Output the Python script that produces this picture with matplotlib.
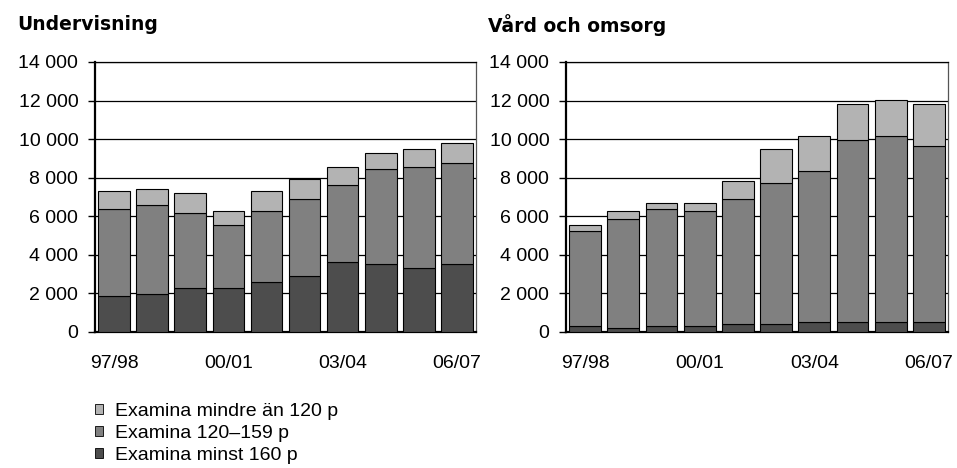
import matplotlib
matplotlib.use("Agg")
import matplotlib.pyplot as plt
from matplotlib.patches import Patch

plt.rcParams['font.family'] = ['Liberation Sans', 'DejaVu Sans']

years = ["97/98", "98/99", "99/00", "00/01", "01/02", "02/03", "03/04", "04/05", "05/06", "06/07"]
tick_labels = ["97/98", "00/01", "03/04", "06/07"]
tick_idx = [0, 3, 6, 9]

# Undervisning
und_min160 = [1880, 1970, 2280, 2280, 2610, 2920, 3650, 3530, 3340, 3530]
und_120_159 = [4480, 4620, 3880, 3250, 3650, 3980, 3980, 4940, 5230, 5230]
und_lt120 = [940, 840, 1060, 730, 1040, 1040, 940, 830, 940, 1060]

# Vård och omsorg
vard_min160 = [300, 210, 300, 300, 400, 400, 500, 500, 500, 500]
vard_120_159 = [4940, 5630, 6060, 5960, 6490, 7320, 7850, 9430, 9640, 9120]
vard_lt120 = [310, 440, 310, 420, 960, 1790, 1790, 1880, 1900, 2190]

series_names = ["Examina mindre än 120 p", "Examina 120–159 p", "Examina minst 160 p"]
c_light, c_mid, c_dark = "#b3b3b3", "#808080", "#4d4d4d"

fig = plt.figure(figsize=(9.57, 4.68), dpi=100)
W, H = 957, 468

def make_ax(x0, x1, y_top, y_bot):
    return fig.add_axes([x0 / W, 1 - y_bot / H, (x1 - x0) / W, (y_bot - y_top) / H])

ax1 = make_ax(95, 476, 62, 332)
ax2 = make_ax(566, 948, 62, 332)

FS = 14

def draw(ax, dark, mid, light):
    x = list(range(len(years)))
    bw = 0.83
    ax.set_axisbelow(True)
    ax.bar(x, dark, bw, color=c_dark, edgecolor="black", linewidth=0.8, zorder=3)
    ax.bar(x, mid, bw, bottom=dark, color=c_mid, edgecolor="black", linewidth=0.8, zorder=3)
    bot2 = [a + b for a, b in zip(dark, mid)]
    ax.bar(x, light, bw, bottom=bot2, color=c_light, edgecolor="black", linewidth=0.8, zorder=3)
    ax.set_xlim(-0.5, len(years) - 0.5)
    ax.set_ylim(0, 14000)
    ax.set_yticks(range(0, 14001, 2000))
    ax.set_yticklabels([f"{v:,}".replace(",", " ") for v in range(0, 14001, 2000)], fontsize=FS)
    ax.set_xticks(tick_idx)
    ax.set_xticklabels(tick_labels, fontsize=FS)
    ax.tick_params(axis='x', length=0, pad=16.5)
    ax.tick_params(axis='y', length=5, width=1, direction='out', pad=7)
    ax.grid(axis='y', color='black', linewidth=0.9)
    ax.spines['left'].set_linewidth(1.6)
    ax.spines['bottom'].set_linewidth(1.6)
    ax.spines['top'].set_linewidth(0.9)
    ax.spines['right'].set_linewidth(0.9)
    ax.spines['right'].set_color('#555555')

draw(ax1, und_min160, und_120_159, und_lt120)
draw(ax2, vard_min160, vard_120_159, vard_lt120)

fig.text(17 / W, 1 - 25 / H, "Undervisning", fontsize=13.5, fontweight='bold',
         family=['DejaVu Sans'], ha='left', va='center')
fig.text(488 / W, 1 - 25 / H, "Vård och omsorg", fontsize=13.5, fontweight='bold',
         family=['DejaVu Sans'], ha='left', va='center')

handles = [Patch(facecolor=c, edgecolor='black', linewidth=0.6) for c in (c_light, c_mid, c_dark)]
fig.legend(handles, series_names, loc='upper left', bbox_to_anchor=(95 / W, 1 - 403 / H),
           frameon=False, fontsize=FS, handlelength=0.4, handleheight=0.4,
           handletextpad=0.65, labelspacing=0.25, borderaxespad=0, borderpad=0)

fig.savefig("out.png", dpi=100)
